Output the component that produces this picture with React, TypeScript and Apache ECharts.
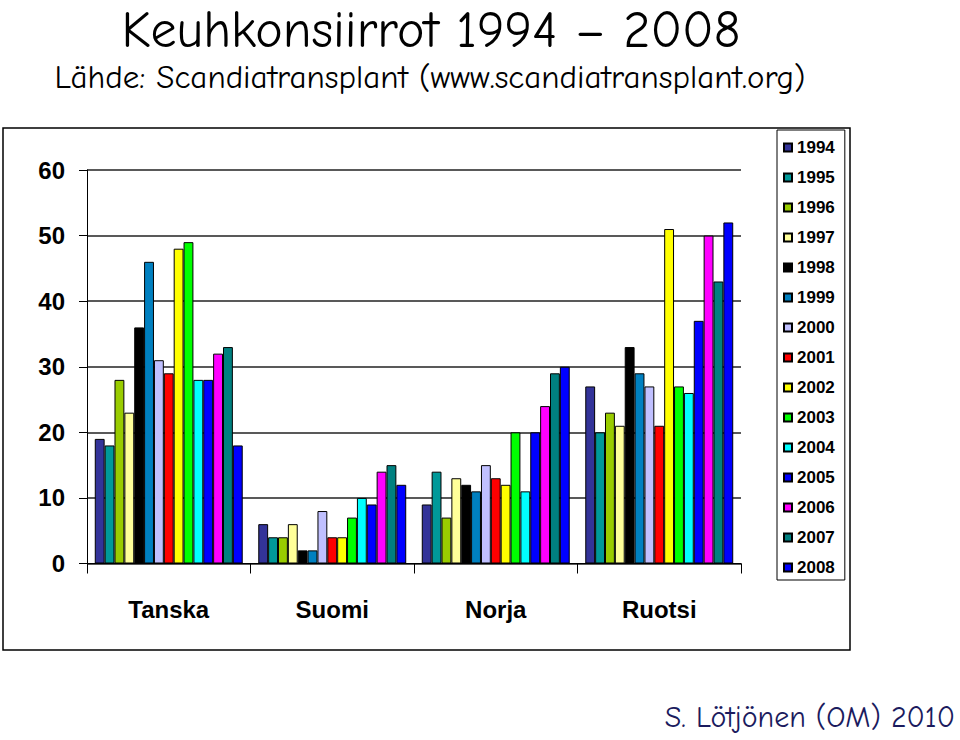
import React, { useEffect, useRef } from "react";
import * as echarts from "echarts";

const categories = ["Tanska", "Suomi", "Norja", "Ruotsi"];
const years = ["1994", "1995", "1996", "1997", "1998", "1999", "2000", "2001", "2002", "2003", "2004", "2005", "2006", "2007", "2008"];
const tanska = [19, 18, 28, 23, 36, 46, 31, 29, 48, 49, 28, 28, 32, 33, 18];
const suomi = [6, 4, 4, 6, 2, 2, 8, 4, 4, 7, 10, 9, 14, 15, 12];
const norja = [9, 14, 7, 13, 12, 11, 15, 13, 12, 20, 11, 20, 24, 29, 30];
const ruotsi = [27, 20, 23, 21, 33, 29, 27, 21, 51, 27, 26, 37, 50, 43, 52];
const yearColors = [
  "#333399", "#009999", "#99cc00", "#ffff99", "#000000",
  "#0080c0", "#c0c0ff", "#ff0000", "#ffff00", "#00ff00",
  "#00ffff", "#0000ff", "#ff00ff", "#008080", "#0000ff",
];
const titleText = "Keuhkonsiirrot 1994 – 2008";
const subtitleText = "Lähde: Scandiatransplant (www.scandiatransplant.org)";
const footerText = "S. Lötjönen (OM) 2010";

const comic = "'Comic Sans MS', 'Comic Neue', 'Open Sans', 'Noto Sans', sans-serif";
const arial = "'Liberation Sans', Arial, sans-serif";

export default function App() {
  const ref = useRef<HTMLDivElement>(null);
  useEffect(() => {
    if (!ref.current) return;
    const chart = echarts.init(ref.current, null, { renderer: "svg" });
    const series = years.map((y, i) => ({
      name: y,
      type: "bar",
      data: [tanska[i], suomi[i], norja[i], ruotsi[i]],
      barGap: "0%",
      barCategoryGap: "9.5%",
      itemStyle: { color: yearColors[i], borderColor: "#000", borderWidth: 1 },
    }));
    chart.setOption({
      animation: false,
      backgroundColor: "#fff",
      grid: { left: 87, right: 219, top: 170, bottom: 176.5 },
      legend: {
        orient: "vertical",
        left: 777,
        top: 130,
        padding: [9, 10, 4, 6],
        borderColor: "#000",
        borderWidth: 1,
        itemWidth: 8,
        itemHeight: 8,
        itemGap: 13,
        icon: "rect",
        data: years,
        textStyle: { fontFamily: arial, fontWeight: "bold", fontSize: 17, lineHeight: 17, color: "#000" },
      },
      xAxis: {
        type: "category",
        data: categories,
        axisLine: { lineStyle: { color: "#000", width: 1 } },
        axisTick: { show: true, length: 10, lineStyle: { color: "#000" } },
        axisLabel: { fontFamily: arial, fontWeight: "bold", fontSize: 24, color: "#000", margin: 34 },
      },
      yAxis: {
        type: "value",
        min: 0,
        max: 60,
        interval: 10,
        axisLine: { show: true, lineStyle: { color: "#000", width: 1 } },
        axisTick: { show: true, length: 8, lineStyle: { color: "#000" } },
        axisLabel: { fontFamily: arial, fontWeight: "bold", fontSize: 24, color: "#000", margin: 22 },
        splitLine: { show: true, lineStyle: { color: "#222", width: 1.5 } },
      },
      series,
      graphic: [
        {
          type: "rect",
          shape: { x: 3, y: 128, width: 847, height: 522 },
          style: { fill: "none", stroke: "#000", lineWidth: 1.5 },
          z: -1,
        },
        {
          type: "text",
          x: 431,
          y: 30,
          style: { text: titleText, font: `52px ${comic}`, fill: "#000", align: "center", verticalAlign: "middle" },
        },
        {
          type: "text",
          x: 430,
          y: 77,
          style: { text: subtitleText, font: `33px ${comic}`, fill: "#000", align: "center", verticalAlign: "middle" },
        },
        {
          type: "text",
          x: 955,
          y: 717,
          style: { text: footerText, font: `30px ${comic}`, fill: "#1b1b5e", align: "right", verticalAlign: "middle" },
        },
      ],
    });
    return () => chart.dispose();
  }, []);
  return <div ref={ref} style={{ position: "fixed", left: 0, top: 0, width: 960, height: 740 }} />;
}
